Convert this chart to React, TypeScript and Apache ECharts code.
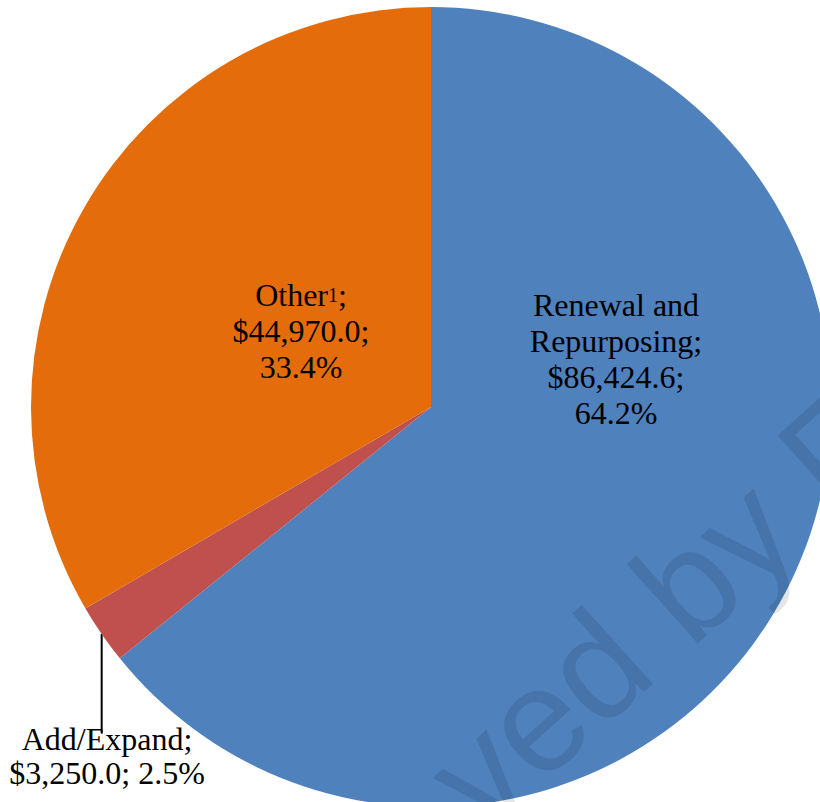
import React, { useEffect, useRef } from 'react';
import * as echarts from 'echarts';

// ---- data ----
const categories = ['Renewal and Repurposing', 'Add/Expand', 'Other'];
const labelNames = ['Renewal and\nRepurposing;', 'Add/Expand;', 'Other{sup|1};'];
const values = [86424.6, 3250.0, 44970.0];
const percents = ['64.2%', '2.5%', '33.4%'];
const colors = ['#4F81BD', '#C0504D', '#E46C0A'];
const watermarkText = 'ved by F';

// ---- layout (label centres in px, not data) ----
const LABEL_CENTERS: number[][] = [
  [616, 359],
  [107, 756],
  [301, 331],
];
const OUTSIDE_LINE_H = 34;

const fmt = (v: number) =>
  '$' + v.toLocaleString('en-US', { minimumFractionDigits: 1, maximumFractionDigits: 1 });

export default function App() {
  const ref = useRef<HTMLDivElement>(null);

  useEffect(() => {
    if (!ref.current) return;
    const chart = echarts.init(ref.current, undefined, { renderer: 'svg' });

    const data = categories.map((name, i) => {
      const outside = i === 1;
      return {
        name,
        value: values[i],
        itemStyle: { color: colors[i] },
        label: outside
          ? { position: 'outside', lineHeight: OUTSIDE_LINE_H }
          : { position: 'inside' },
        labelLine: outside
          ? { show: true, length: 10, length2: 10, lineStyle: { color: '#000', width: 2 } }
          : { show: false },
      };
    });

    const option: any = {
      animation: false,
      backgroundColor: '#ffffff',
      series: [
        {
          type: 'pie',
          center: [431, 407],
          radius: 400,
          startAngle: 90,
          clockwise: true,
          avoidLabelOverlap: false,
          itemStyle: { borderWidth: 0 },
          emphasis: { disabled: true },
          label: {
            show: true,
            color: '#000',
            fontFamily: 'Liberation Serif',
            fontSize: 32,
            lineHeight: 36,
            align: 'center',
            formatter: (p: any) => {
              const i = p.dataIndex;
              const sep = i === 1 ? ' ' : '\n';
              return labelNames[i] + '\n' + fmt(values[i]) + ';' + sep + percents[i];
            },
            rich: {
              sup: {
                fontFamily: 'Liberation Serif',
                fontSize: 20,
                color: '#000',
                verticalAlign: 'middle',
              },
            },
          },
          labelLayout: (params: any) => {
            const i = params.dataIndex;
            const c = LABEL_CENTERS[i];
            const res: any = { x: c[0], y: c[1], align: 'center', verticalAlign: 'middle' };
            if (i === 1 && params.labelLinePoints && params.labelLinePoints.length) {
              const p0 = params.labelLinePoints[0];
              const top = c[1] - OUTSIDE_LINE_H;
              res.labelLinePoints = [
                [p0[0], p0[1]],
                [p0[0], top + 11],
              ];
            }
            return res;
          },
          data,
        },
      ],
      graphic: [
        {
          type: 'text',
          x: 450,
          y: 798,
          rotation: (42 * Math.PI) / 180,
          z: 100,
          silent: true,
          style: {
            text: watermarkText,
            fontFamily: 'Liberation Sans',
            fontSize: 147,
            fill: 'rgba(0,0,0,0.1)',
            align: 'left',
            verticalAlign: 'middle',
          },
        },
      ],
    };

    chart.setOption(option);
    return () => chart.dispose();
  }, []);

  return (
    <div
      ref={ref}
      style={{ position: 'fixed', left: 0, top: 0, width: 820, height: 802 }}
    />
  );
}
